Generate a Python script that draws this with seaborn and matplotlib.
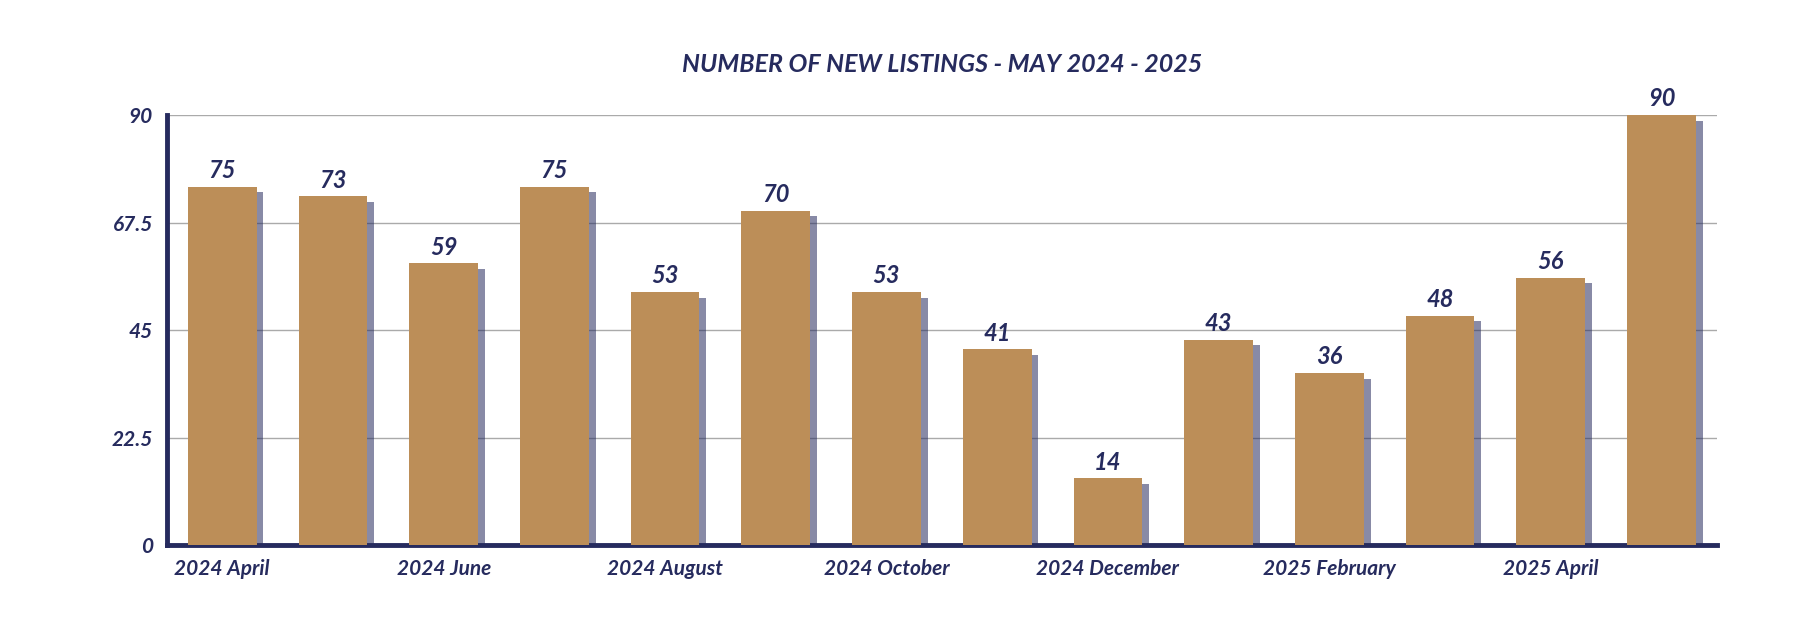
import matplotlib
matplotlib.use("Agg")
import matplotlib.pyplot as plt
import matplotlib.patheffects as pe
import seaborn as sns
import pandas as pd

months = ["2024 April", "2024 May", "2024 June", "2024 July", "2024 August",
          "2024 September", "2024 October", "2024 November", "2024 December",
          "2025 January", "2025 February", "2025 March", "2025 April", "2025 May"]
listings = [75, 73, 59, 75, 53, 70, 53, 41, 14, 43, 36, 48, 56, 90]
yticks = [0, 22.5, 45, 67.5, 90]
ytick_labels = ["0", "22.5", "45", "67.5", "90"]

navy = "#262B5E"
gold = "#BC8E58"
plt.rcParams["font.family"] = "Lato"

df = pd.DataFrame({"month": months, "listings": listings})
fig = plt.figure(figsize=(17.94, 6.4), dpi=100)
ax = fig.add_axes([0.093, 0.148, 0.864, 0.672])
sns.barplot(data=df, x="month", y="listings", color=gold, width=0.62,
            saturation=1, ax=ax, zorder=3)
for bar, v in zip(ax.patches, listings):
    bar.set_path_effects([pe.SimplePatchShadow(offset=(5, -4), shadow_rgbFace=navy, alpha=0.55),
                          pe.Normal()])
    ax.text(bar.get_x() + bar.get_width() / 2, v + 1, str(v), ha="center", va="bottom",
            fontsize=17, fontstyle="italic", fontweight="bold", color=navy, zorder=4)

ax.set_ylim(0, 90)
ax.set_xlim(-0.5, len(months) - 0.5)
ax.set_yticks(yticks)
ax.set_yticklabels(ytick_labels, fontsize=15, fontstyle="italic", fontweight="bold", color=navy)
ax.set_xticks(range(0, len(months), 2))
ax.set_xticklabels(months[::2], fontsize=15, fontstyle="italic", fontweight="bold", color=navy)
ax.tick_params(length=0, pad=10)
ax.yaxis.grid(True, color="#AAAAAA", linewidth=1, zorder=0)
ax.set_axisbelow(True)
for s in ["top", "right"]:
    ax.spines[s].set_visible(False)
for s in ["left", "bottom"]:
    ax.spines[s].set_color(navy)
    ax.spines[s].set_linewidth(3.5)
ax.set_xlabel("")
ax.set_ylabel("")
fig.text(0.525, 0.9, "NUMBER OF NEW LISTINGS - MAY 2024 - 2025", ha="center", va="center",
         fontsize=18, fontstyle="italic", fontweight="bold", color=navy)
fig.savefig("out.png", dpi=100, facecolor="white")
